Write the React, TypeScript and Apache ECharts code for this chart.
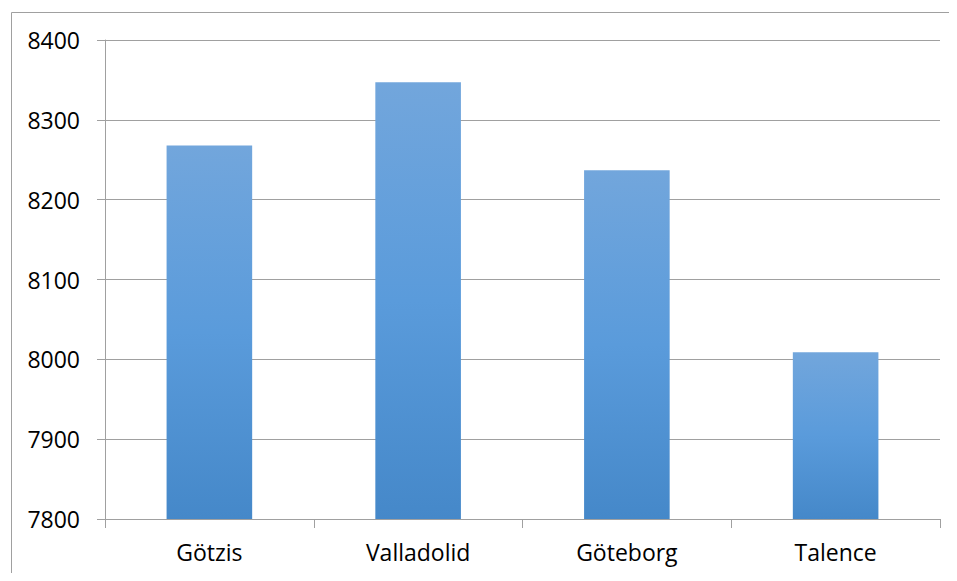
import React, { useEffect, useRef } from "react";
import * as echarts from "echarts";

// Decathlon meeting scores
const categories = ["Götzis", "Valladolid", "Göteborg", "Talence"];
const scores = [8268, 8347, 8237, 8009];
const yTicks = { min: 7800, max: 8400, interval: 100 };

const FONT = "'Open Sans', sans-serif";
const GRID_COLOR = "#A0A0A0";

export default function App() {
  const ref = useRef<HTMLDivElement>(null);

  useEffect(() => {
    if (!ref.current) return;
    const chart = echarts.init(ref.current, null, { renderer: "svg" });

    const barFill = new echarts.graphic.LinearGradient(0, 0, 0, 1, [
      { offset: 0, color: "#72A6DC" },
      { offset: 0.5, color: "#5A9BDB" },
      { offset: 1, color: "#4588C9" },
    ]);

    chart.setOption({
      animation: false,
      backgroundColor: "#ffffff",
      grid: { left: 105, right: 17, top: 40, bottom: 62, containLabel: false },
      graphic: [
        {
          type: "rect",
          left: 9,
          top: 10,
          shape: { x: 0.5, y: 0.5, width: 1000, height: 1000 },
          style: { fill: "none", stroke: GRID_COLOR, lineWidth: 1 },
          silent: true,
          z: -1,
        },
      ],
      xAxis: {
        type: "category",
        data: categories,
        boundaryGap: true,
        axisLine: { show: true, lineStyle: { color: GRID_COLOR, width: 1 } },
        axisTick: { show: true, length: 9, lineStyle: { color: GRID_COLOR } },
        axisLabel: {
          margin: 21,
          color: "#000000",
          fontFamily: FONT,
          fontSize: 23,
        },
        splitLine: { show: false },
      },
      yAxis: {
        type: "value",
        min: yTicks.min,
        max: yTicks.max,
        interval: yTicks.interval,
        axisLine: { show: true, lineStyle: { color: GRID_COLOR, width: 1 } },
        axisTick: { show: true, length: 8, lineStyle: { color: GRID_COLOR } },
        axisLabel: {
          margin: 25,
          color: "#000000",
          fontFamily: FONT,
          fontSize: 23,
          formatter: (v: number) => String(v),
        },
        splitLine: { show: true, lineStyle: { color: GRID_COLOR, width: 1 } },
      },
      series: [
        {
          type: "bar",
          data: scores,
          barWidth: "41%",
          itemStyle: { color: barFill },
        },
      ],
    });

    return () => chart.dispose();
  }, []);

  return <div ref={ref} style={{ width: 957, height: 581, margin: -8 }} />;
}
